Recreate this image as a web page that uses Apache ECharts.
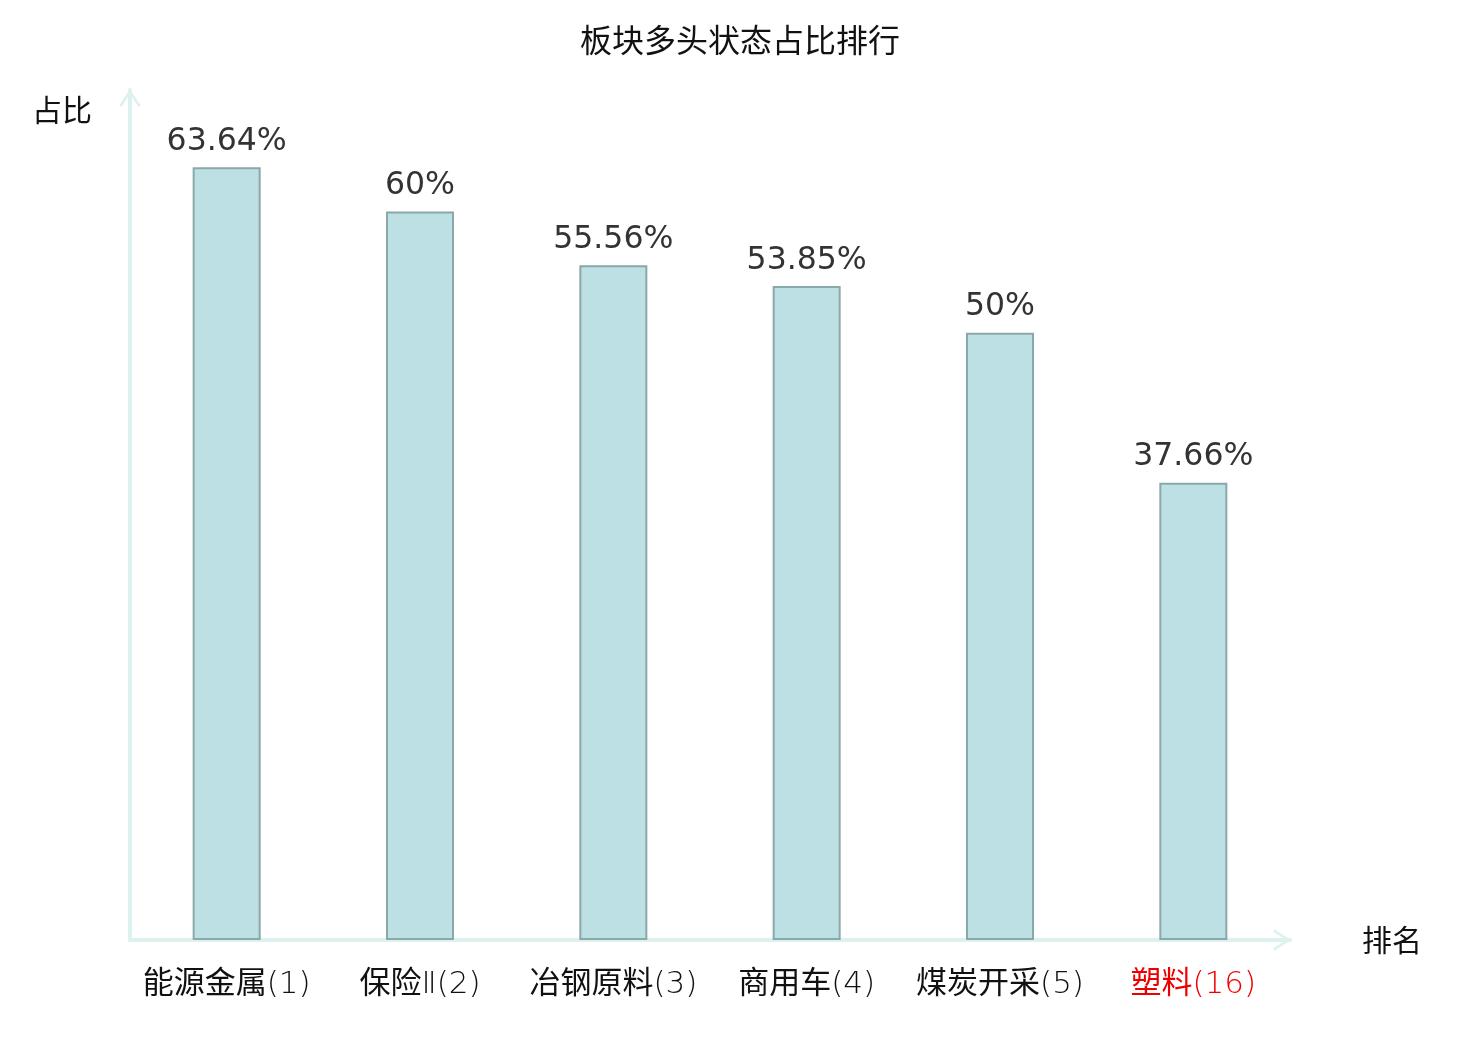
<!DOCTYPE html>
<html>
<head>
<meta charset="utf-8">
<script src="https://cdn.jsdelivr.net/npm/echarts@6/dist/echarts.min.js"></script>
<style>html,body{margin:0;padding:0;background:#fff;}#chart{width:1480px;height:1040px;}</style>
</head>
<body>
<div id="chart"></div>
<script>
var categories = ['能源金属(1)', '保险Ⅱ(2)', '冶钢原料(3)', '商用车(4)', '煤炭开采(5)', '塑料(16)'];
var values = [63.64, 60, 55.56, 53.85, 50, 37.66];
var highlighted = [false, false, false, false, false, true];

var FONT = "'DejaVu Sans', 'Noto Sans CJK SC', sans-serif";
var CJK = "'Noto Sans CJK SC', sans-serif";
var LIGHT = "'DejaVu Sans ExtraLight', 'DejaVu Sans', sans-serif";
var arrowPath = 'path://M11,0 L22,17 L19.5,18.5 L11,4.5 L2.5,18.5 L0,17 Z';
var axisLineColor = '#ddf1ee';

function splitLabel(s) {
  var m = s.match(/^([\u4e00-\u9fff]+)(.*)$/);
  return m ? [m[1], m[2]] : [s, ''];
}

var chart = echarts.init(document.getElementById('chart'));
chart.setOption({
  backgroundColor: '#fff',
  animation: false,
  title: {
    text: '板块多头状态占比排行',
    left: 'center',
    top: 23,
    textStyle: { fontFamily: FONT, fontSize: 32, fontWeight: 'normal', color: '#111' }
  },
  grid: { left: 130, right: 190, top: 90, bottom: 100, containLabel: false },
  xAxis: {
    type: 'category',
    data: categories,
    name: '排名',
    nameLocation: 'end',
    nameGap: 72,
    nameTextStyle: { fontFamily: CJK, fontSize: 30, color: '#111', verticalAlign: 'middle', padding: [12, 0, 0, 0] },
    axisLine: {
      show: true,
      symbol: ['none', arrowPath],
      symbolSize: [22, 18],
      symbolOffset: [0, -8],
      lineStyle: { color: axisLineColor, width: 4 }
    },
    axisTick: { show: false },
    axisLabel: {
      interval: 0,
      margin: 23,
      formatter: function (value, index) {
        var parts = splitLabel(value);
        var k = highlighted[index] ? 'R' : '';
        return '{cjk' + k + '|' + parts[0] + '}{num' + k + '|' + parts[1] + '}';
      },
      rich: {
        cjk: { fontFamily: CJK, fontSize: 31, color: '#111' },
        num: { fontFamily: LIGHT, fontSize: 31, fontWeight: 200, color: '#111', padding: [6, 0, 0, 0] },
        cjkR: { fontFamily: CJK, fontSize: 31, color: '#ee0000' },
        numR: { fontFamily: LIGHT, fontSize: 31, fontWeight: 200, color: '#ee0000', padding: [6, 0, 0, 0] }
      }
    }
  },
  yAxis: {
    type: 'value',
    min: 0,
    max: 70,
    name: '占比',
    nameLocation: 'end',
    nameGap: -20,
    nameTextStyle: { fontFamily: CJK, fontSize: 30, color: '#111', align: 'right', verticalAlign: 'middle', padding: [0, 38, 0, 0] },
    axisLine: {
      show: true,
      symbol: ['none', arrowPath],
      symbolSize: [22, 18],
      symbolOffset: [0, -8],
      lineStyle: { color: axisLineColor, width: 4 }
    },
    axisTick: { show: false },
    axisLabel: { show: false },
    splitLine: { show: false }
  },
  series: [{
    type: 'bar',
    data: values,
    barWidth: 68,
    itemStyle: { color: '#bce0e3', borderColor: '#8aa8a8', borderWidth: 2 },
    label: {
      show: true,
      position: 'top',
      distance: 10,
      fontFamily: FONT,
      fontSize: 31.5,
      color: '#333',
      formatter: function (p) { return p.value + '%'; }
    }
  }]
});
</script>
</body>
</html>
